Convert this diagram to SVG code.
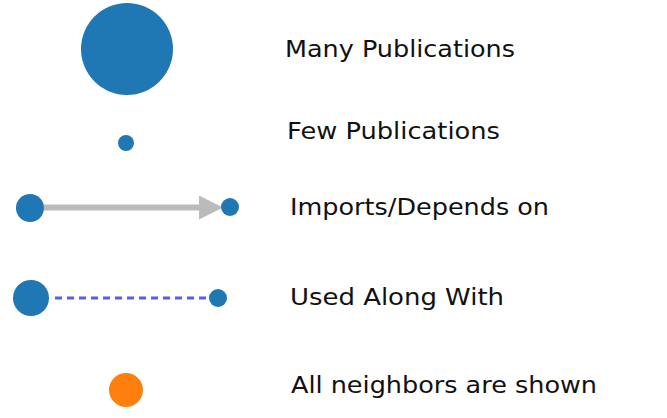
<svg xmlns="http://www.w3.org/2000/svg" width="667" height="418" viewBox="0 0 667 418">
<style>
.n{fill:#1f77b4}
.o{fill:#ff7f0e}
.t{font-family:"DejaVu Sans","Noto Sans",sans-serif;font-size:23px;fill:#111}
.imp{stroke:#bbbbbb;stroke-width:6;fill:none}
.use{stroke:#5a5af5;stroke-width:3;stroke-dasharray:7 5;fill:none}
</style>
<defs>
<marker id="ah" viewBox="0 0 10 10" refX="0" refY="5" markerWidth="4" markerHeight="4" markerUnits="strokeWidth" orient="auto">
<path d="M0,0 L10,5 L0,10 Z" fill="#bbbbbb"/>
</marker>
</defs>
<rect width="667" height="418" fill="#fff"/>
<g id="connectors">
<line class="imp" x1="44" y1="207.5" x2="199" y2="207.5" marker-end="url(#ah)"/>
<line class="use" x1="55" y1="298" x2="209" y2="298"/>
</g>
<g id="many"><circle class="n" cx="127" cy="49" r="46"/><text class="t" x="285" y="57" textLength="230" lengthAdjust="spacingAndGlyphs">Many Publications</text></g>
<g id="few"><circle class="n" cx="126" cy="143" r="8"/><text class="t" x="287" y="139" textLength="213" lengthAdjust="spacingAndGlyphs">Few Publications</text></g>
<g id="imports"><circle class="n" cx="30" cy="208" r="14"/><circle class="n" cx="230" cy="207" r="9"/><text class="t" x="290" y="215" textLength="259" lengthAdjust="spacingAndGlyphs">Imports/Depends on</text></g>
<g id="used"><circle class="n" cx="31" cy="298" r="18"/><circle class="n" cx="218" cy="298" r="9"/><text class="t" x="290" y="305" textLength="214" lengthAdjust="spacingAndGlyphs">Used Along With</text></g>
<g id="all"><circle class="o" cx="126" cy="390" r="17"/><text class="t" x="291" y="393" textLength="306" lengthAdjust="spacingAndGlyphs">All neighbors are shown</text></g>
</svg>
